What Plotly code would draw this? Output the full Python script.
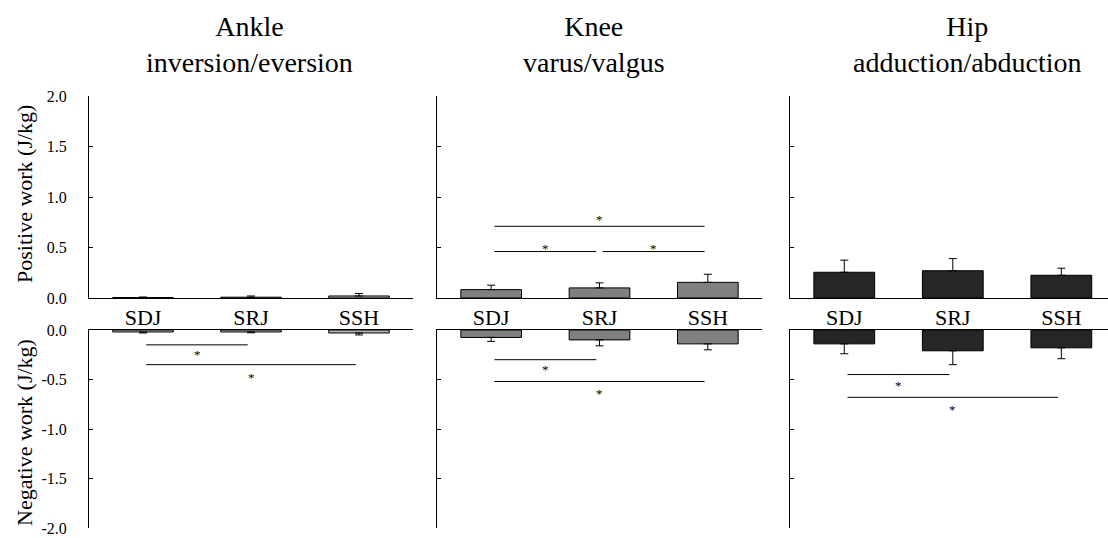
import plotly.graph_objects as go

# ---------------- data ----------------
categories = ["SDJ", "SRJ", "SSH"]
panel_titles = ["Ankle<br>inversion/eversion", "Knee<br>varus/valgus", "Hip<br>adduction/abduction"]

ankle_pos = [0.005, 0.008, 0.02]
ankle_pos_sd = [0.005, 0.012, 0.025]
ankle_neg = [-0.02, -0.02, -0.03]
ankle_neg_sd = [0.01, 0.008, 0.02]

knee_pos = [0.083, 0.10, 0.155]
knee_pos_sd = [0.044, 0.05, 0.08]
knee_neg = [-0.075, -0.10, -0.14]
knee_neg_sd = [0.04, 0.06, 0.06]

hip_pos = [0.255, 0.27, 0.225]
hip_pos_sd = [0.12, 0.12, 0.07]
hip_neg = [-0.14, -0.21, -0.18]
hip_neg_sd = [0.10, 0.14, 0.11]

pos_ticks = [0, 0.5, 1.0, 1.5, 2.0]
pos_ticktext = ["0.0", "0.5", "1.0", "1.5", "2.0"]
neg_ticks = [-2.0, -1.5, -1.0, -0.5, 0]
neg_ticktext = ["-2.0", "-1.5", "-1.0", "-0.5", "0.0"]

# significance brackets: panel, side (0=positive,1=negative), from, to, line level, star level
sig_panel = [0, 0, 1, 1, 1, 1, 1, 2, 2]
sig_side = [1, 1, 0, 0, 0, 1, 1, 1, 1]
sig_from = [0, 0, 0, 0, 1, 0, 0, 0, 0]
sig_to = [1, 2, 2, 1, 2, 1, 2, 1, 2]
sig_level = [-0.15, -0.35, 0.71, 0.46, 0.46, -0.30, -0.52, -0.45, -0.68]
sig_star = [-0.22, -0.45, 0.81, 0.52, 0.52, -0.37, -0.61, -0.53, -0.77]

# ---------------- styling ----------------
FONT = "Liberation Serif"
bar_colors = ["#b4b4b4", "#808080", "#262626"]
W, H = 1108, 538

pos_vals = [ankle_pos, knee_pos, hip_pos]
pos_sds = [ankle_pos_sd, knee_pos_sd, hip_pos_sd]
neg_vals = [ankle_neg, knee_neg, hip_neg]
neg_sds = [ankle_neg_sd, knee_neg_sd, hip_neg_sd]

x_px = [(89, 413), (437, 762), (790, 1108)]
x_ranges = [[-0.5, 2.5], [-0.5, 2.5], [-0.5, 2.43]]
top_px = (96, 298)
bot_px = (330, 528)

def py(px):
    return (H - px) / H

fig = go.Figure()
layout = dict(
    width=W, height=H,
    margin=dict(l=0, r=0, t=0, b=0, autoexpand=False),
    paper_bgcolor="white", plot_bgcolor="white",
    showlegend=False,
    font=dict(family=FONT, color="black"),
    bargap=0.44,
)

xs = [0, 1, 2]
for p in range(3):
    it = 2 * p + 1
    ib = 2 * p + 2
    xt, yt = f"x{it}", f"y{it}"
    xb, yb = f"x{ib}", f"y{ib}"
    fig.add_trace(go.Bar(
        x=xs, y=pos_vals[p], xaxis=xt, yaxis=yt,
        marker=dict(color=bar_colors[p], line=dict(color="black", width=1)),
        error_y=dict(type="data", symmetric=False, array=pos_sds[p],
                     arrayminus=[0, 0, 0], color="black", thickness=1, width=4),
        hoverinfo="skip",
    ))
    fig.add_trace(go.Bar(
        x=xs, y=neg_vals[p], xaxis=xb, yaxis=yb,
        marker=dict(color=bar_colors[p], line=dict(color="black", width=1)),
        error_y=dict(type="data", symmetric=False, array=[0, 0, 0],
                     arrayminus=neg_sds[p], color="black", thickness=1, width=4),
        hoverinfo="skip",
    ))
    dom_x = [x_px[p][0] / W, x_px[p][1] / W]
    sfx_t = "" if it == 1 else str(it)
    sfx_b = str(ib)
    layout["xaxis" + sfx_t] = dict(
        domain=dom_x, range=x_ranges[p], anchor=yt, automargin=False,
        tickmode="array", tickvals=xs, ticktext=categories,
        tickfont=dict(family=FONT, size=22, color="black"),
        showline=True, linecolor="black", linewidth=1,
        ticks="", showgrid=False, zeroline=False,
    )
    layout["yaxis" + sfx_t] = dict(
        domain=[py(top_px[1]), py(top_px[0])], range=[0, 2.0], anchor=xt,
        automargin=False, ticklabeloverflow="allow",
        tickmode="array", tickvals=pos_ticks, ticktext=pos_ticktext,
        showticklabels=(p == 0), ticklabelstandoff=18,
        tickfont=dict(family=FONT, size=16, color="black"),
        showline=True, linecolor="black", linewidth=1,
        ticks="inside", ticklen=4, tickcolor="black",
        showgrid=False, zeroline=False,
    )
    layout["xaxis" + sfx_b] = dict(
        domain=dom_x, range=x_ranges[p], anchor=yb, side="top", automargin=False,
        showticklabels=False, showline=True, linecolor="black", linewidth=1,
        ticks="", showgrid=False, zeroline=False,
    )
    layout["yaxis" + sfx_b] = dict(
        domain=[py(bot_px[1]), py(bot_px[0])], range=[-2.0, 0], anchor=xb,
        automargin=False, ticklabeloverflow="allow",
        tickmode="array", tickvals=neg_ticks, ticktext=neg_ticktext,
        showticklabels=(p == 0), ticklabelstandoff=18,
        tickfont=dict(family=FONT, size=16, color="black"),
        showline=True, linecolor="black", linewidth=1,
        ticks="inside", ticklen=4, tickcolor="black",
        showgrid=False, zeroline=False,
    )

fig.update_layout(**layout)

# significance brackets
pad = 0.03
for k in range(len(sig_panel)):
    p = sig_panel[k]
    idx = 2 * p + 1 + sig_side[k]
    xr, yr = f"x{idx}", f"y{idx}"
    fig.add_shape(type="line", xref=xr, yref=yr,
                  x0=sig_from[k] + pad, x1=sig_to[k] - pad,
                  y0=sig_level[k], y1=sig_level[k],
                  line=dict(color="black", width=1))
    fig.add_annotation(xref=xr, yref=yr,
                       x=(sig_from[k] + sig_to[k]) / 2, y=sig_star[k] - 0.03,
                       text="*", showarrow=False, yanchor="middle",
                       font=dict(family=FONT, size=13, color="black"))

# panel titles
title_x = [250, 594, 967]
for p in range(3):
    fig.add_annotation(xref="paper", yref="paper", x=title_x[p] / W, y=py(45),
                       text=panel_titles[p], showarrow=False,
                       xanchor="center", yanchor="middle",
                       font=dict(family=FONT, size=28, color="black"))

# y-axis titles
fig.add_annotation(xref="paper", yref="paper", x=24 / W, y=py(194),
                   text="Positive work (J/kg)", textangle=-90, showarrow=False,
                   xanchor="center", yanchor="middle",
                   font=dict(family=FONT, size=22, color="black"))
fig.add_annotation(xref="paper", yref="paper", x=24 / W, y=py(433),
                   text="Negative work (J/kg)", textangle=-90, showarrow=False,
                   xanchor="center", yanchor="middle",
                   font=dict(family=FONT, size=22, color="black"))

fig.write_html("out.html")
